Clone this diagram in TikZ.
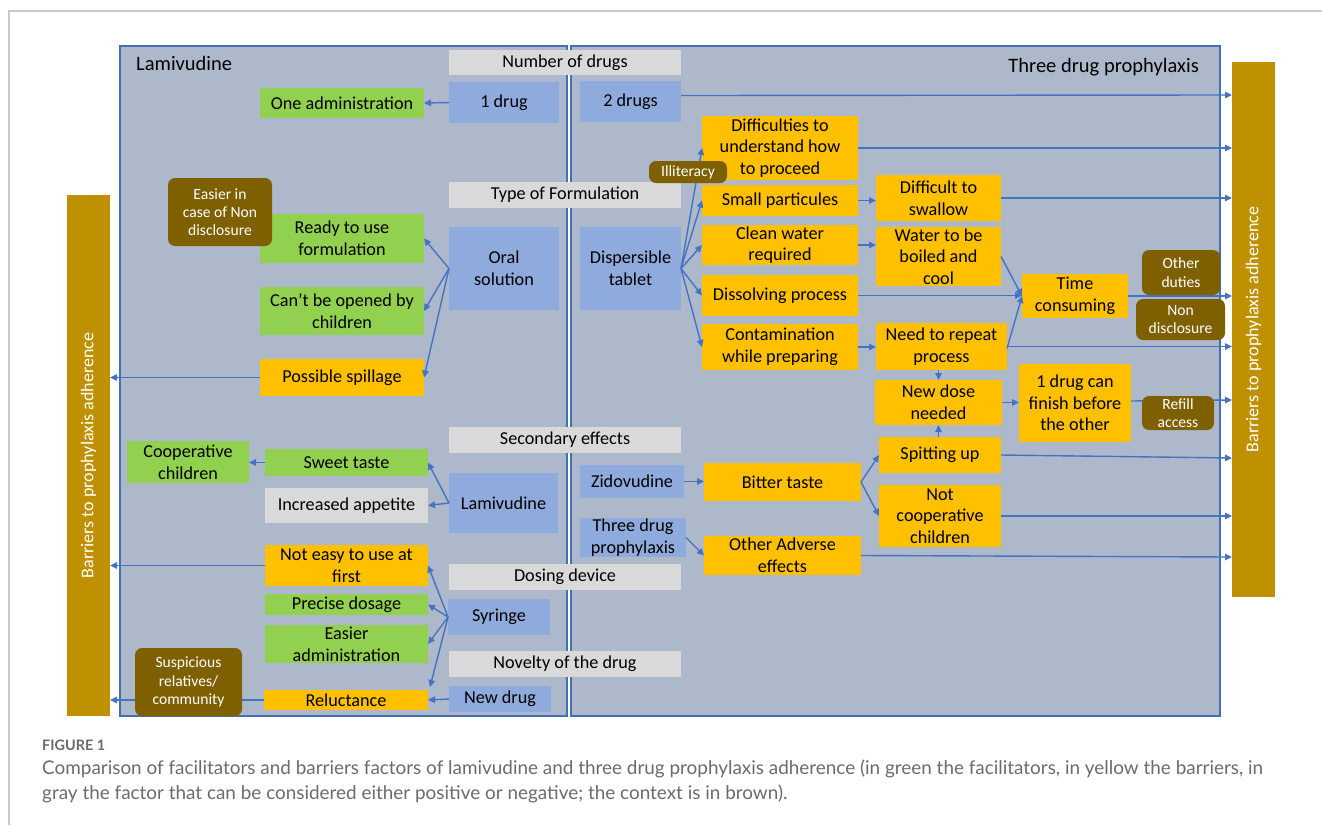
\documentclass[tikz,border=0pt]{standalone}
\usepackage{fontspec}
\setmainfont{Carlito}
\newfontfamily\capfont{Lato}
\usetikzlibrary{arrows.meta,calc}
\definecolor{panelfill}{HTML}{ADB9CA}
\definecolor{panelline}{HTML}{4270B5}
\definecolor{arrowblue}{HTML}{4472C4}
\definecolor{bluebox}{HTML}{8FAADC}
\definecolor{graybox}{HTML}{D9D9D9}
\definecolor{greenbox}{HTML}{92D050}
\definecolor{yellowbox}{HTML}{FFC000}
\definecolor{brownbox}{HTML}{7F6000}
\definecolor{barcol}{HTML}{BF9000}
\definecolor{framegray}{HTML}{C8C8C8}
\definecolor{captext}{HTML}{6B6B6B}
\newcommand\bx[7]{\node[#6, anchor=north west, minimum width={#4-#2}, minimum height={#5-#3}] (#1) at (#2,#3) {#7};}
\tikzset{
  base/.style={inner sep=0pt, outer sep=0pt, align=center, font=\fontsize{18.2}{21.7}\selectfont},
  blue/.style={base, fill=bluebox},
  gray/.style={base, fill=graybox},
  green/.style={base, fill=greenbox},
  yellow/.style={base, fill=yellowbox},
  brown/.style={base, fill=brownbox, text=white, rounded corners=7pt, font=\fontsize{15.6}{18.3}\selectfont},
  arr/.style={draw=arrowblue, line width=1.4pt, -{Triangle[length=7pt,width=6.5pt]}},
  panel/.style={draw=panelline, line width=1.5pt, fill=panelfill, inner sep=0pt, outer sep=0pt},
  bar/.style={fill=barcol, inner sep=0pt, outer sep=0pt, text=white, font=\fontsize{18}{21}\selectfont},
  title/.style={inner sep=0pt, font=\fontsize{20.5}{24}\selectfont}
}
\begin{document}
\begin{tikzpicture}[x=1pt,y=-1pt]
\useasboundingbox (0,0) rectangle (1322,825);
% outer frame
\draw[framegray, line width=1.5pt] (9,825) -- (9,11) -- (1322,11);
% panels
\bx{lampanel}{120}{46}{567}{716}{panel}{}
\bx{tdppanel}{571}{46}{1220}{716}{panel}{}
\node[title, anchor=west] (lamtitle) at (136,63) {Lamivudine};
\node[title, anchor=east] (tdptitle) at (1199,67) {Three drug prophylaxis};
% bars
\node[bar, rotate=90, minimum width=521, minimum height=43] (lbar) at (88.5,455.5) {Barriers to prophylaxis adherence};
\node[bar, rotate=90, minimum width=535, minimum height=43] (rbar) at (1253.5,329.5) {Barriers to prophylaxis adherence};
% headers
\bx{hnum}{449}{50}{681}{75}{gray}{Number of drugs}
\bx{htype}{449}{182}{681}{208}{gray}{Type of Formulation}
\bx{hsec}{449}{427}{681}{453}{gray}{Secondary effects}
\bx{hdos}{449}{564}{681}{590}{gray}{Dosing device}
\bx{hnov}{449}{651}{681}{677}{gray}{Novelty of the drug}
% blue boxes
\bx{onedrug}{449}{82}{559}{123}{blue}{1 drug}
\bx{twodrugs}{580}{81}{681}{122}{blue}{2 drugs}
\bx{oral}{449}{227}{559}{310}{blue}{Oral\\solution}
\bx{disp}{580}{227}{681}{310}{blue}{Dispersible\\tablet}
\bx{lam}{449}{473}{558}{533}{blue}{Lamivudine}
\bx{zid}{580}{465}{684}{498}{blue}{Zidovudine}
\bx{tdp}{580}{518}{686}{557}{blue}{Three drug\\prophylaxis}
\bx{syr}{448}{599}{550}{635}{blue}{Syringe}
\bx{newdrug}{449}{686}{551}{712}{blue}{New drug}
% left side
\bx{oneadmin}{260}{88}{424}{118}{green}{One administration}
\bx{ready}{260}{214}{424}{263}{green}{Ready to use\\formulation}
\bx{cant}{260}{287}{424}{335}{green}{Can’t be opened by\\children}
\bx{spill}{260}{359}{424}{396}{yellow}{Possible spillage}
\bx{coop}{127}{441}{249}{483}{green}{Cooperative\\children}
\bx{sweet}{265}{449}{428}{476}{green}{Sweet taste}
\bx{appetite}{265}{488}{428}{523}{gray}{Increased appetite}
\bx{noteasy}{265}{545}{428}{586}{yellow}{Not easy to use at\\first}
\bx{precise}{265}{594}{428}{615}{green}{Precise dosage}
\bx{easier}{265}{625}{428}{663}{green}{Easier\\administration}
\bx{reluct}{264}{690}{428}{710}{yellow}{Reluctance}
% right side
\bx{diff}{702}{116}{858}{180}{yellow}{Difficulties to\\understand how\\to proceed}
\bx{small}{702}{185}{858}{216}{yellow}{Small particules}
\bx{clean}{702}{225}{858}{265}{yellow}{Clean water\\required}
\bx{dissolv}{702}{275}{858}{316}{yellow}{Dissolving process}
\bx{contam}{702}{324}{858}{370}{yellow}{Contamination\\while preparing}
\bx{swallow}{876}{175}{1001}{221}{yellow}{Difficult to\\swallow}
\bx{water}{876}{227}{1001}{286}{yellow}{Water to be\\boiled and\\cool}
\bx{timec}{1022}{274}{1128}{318}{yellow}{Time\\consuming}
\bx{repeat}{876}{323}{1007}{370}{yellow}{Need to repeat\\process}
\bx{newdose}{875}{380}{1002}{425}{yellow}{New dose\\needed}
\bx{finish}{1019}{364}{1131}{442}{yellow}{1 drug can\\finish before\\the other}
\bx{spit}{879}{437}{1001}{473}{yellow}{Spitting up}
\bx{notcoop}{879}{485}{1001}{547}{yellow}{Not\\cooperative\\children}
\bx{bitter}{704}{463}{861}{501}{yellow}{Bitter taste}
\bx{otheradv}{704}{536}{861}{575}{yellow}{Other Adverse\\effects}
% arrows left
\draw[arr] (onedrug.west) -- (oneadmin.east);
\draw[arr] (oral.west) -- (ready.east);
\draw[arr] (oral.west) -- (cant.east);
\draw[arr] (oral.west) -- (spill.east);
\draw[arr] (spill.west) -- (lbar.south |- spill.west);
\draw[arr] (lam.west) -- (sweet.east);
\draw[arr] (lam.west) -- (appetite.east);
\draw[arr] (sweet.west) -- (coop.east |- sweet.west);
\draw[arr] (syr.west) -- (noteasy.east);
\draw[arr] (syr.west) -- (precise.east);
\draw[arr] (syr.west) -- (easier.east);
\draw[arr] (syr.west) -- ([xshift=2pt,yshift=3pt]reluct.north east);
\draw[arr] (newdrug.west) -- (reluct.east);
\draw[arr] (noteasy.west) -- (lbar.south |- noteasy.west);
\draw[arr] (reluct.west) -- (lbar.south |- reluct.west);
% arrows right
\draw[arr] ($(twodrugs.east)+(0,-6)$) -- (rbar.north |- 0,95);
\draw[arr] (disp.east) -- (diff.west);
\draw[arr] (disp.east) -- (small.west);
\draw[arr] (disp.east) -- (clean.west);
\draw[arr] (disp.east) -- (dissolv.west);
\draw[arr] (disp.east) -- (contam.west);
\draw[arr] (diff.east) -- (rbar.north |- diff.east);
\draw[arr] (small.east) -- (swallow.west |- small.east);
\draw[arr] (clean.east) -- (water.west |- clean.east);
\draw[arr] (contam.east) -- (repeat.west |- contam.east);
\draw[arr] (swallow.east) -- (rbar.north |- swallow.east);
\draw[arr] (dissolv.east) -- (timec.west |- dissolv.east);
\draw[arr] (water.east) -- (timec.west);
\draw[arr] ([yshift=-2pt]repeat.east) -- (timec.west);
\draw[arr] (timec.east) -- (rbar.north |- timec.east);
\draw[arr] (repeat.east) -- (rbar.north |- repeat.east);
\draw[arr] (repeat.south -| newdose.north) -- (newdose.north);
\draw[arr] (spit.north -| newdose.south) -- (newdose.south);
\draw[arr] (newdose.east) -- (finish.west |- newdose.east);
\draw[arr] (finish.east |- 0,401) -- (rbar.north |- 0,400);
\draw[arr] (zid.east) -- (bitter.west |- zid.east);
\draw[arr] (tdp.east) -- (otheradv.west);
\draw[arr] (bitter.east) -- (spit.west);
\draw[arr] (bitter.east) -- (notcoop.west);
\draw[arr] (spit.east) -- (rbar.north |- 0,458);
\draw[arr] (notcoop.east) -- (rbar.north |- notcoop.east);
\draw[arr] (otheradv.east) -- (rbar.north |- 0,557);
% context boxes (brown)
\bx{easiernd}{168}{178}{272}{246}{brown}{Easier in\\case of Non\\disclosure}
\bx{suspicious}{135}{648}{242}{716}{brown}{Suspicious\\relatives/\\community}
\bx{illit}{649}{161}{727}{183}{brown}{Illiteracy}
\bx{otherduties}{1142}{250}{1220}{295}{brown}{Other\\duties}
\bx{nondisc}{1136}{299}{1225}{340}{brown}{Non\\disclosure}
\bx{refill}{1142}{396}{1214}{430}{brown}{Refill\\access}
% caption
\node[anchor=base west, inner sep=0pt, text=captext, font=\capfont\bfseries\fontsize{14.4}{16}\selectfont] (figlabel) at (42,750) {FIGURE 1};
\node[anchor=base west, inner sep=0pt, text=captext, font=\capfont\fontsize{18.9}{22}\selectfont] (cap1) at (42,774) {Comparison of facilitators and barriers factors of lamivudine and three drug prophylaxis adherence (in green the facilitators, in yellow the barriers, in};
\node[anchor=base west, inner sep=0pt, text=captext, font=\capfont\fontsize{18.9}{22}\selectfont] (cap2) at (42,799) {gray the factor that can be considered either positive or negative; the context is in brown).};
\end{tikzpicture}
\end{document}
